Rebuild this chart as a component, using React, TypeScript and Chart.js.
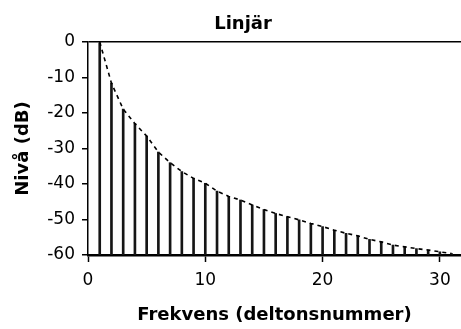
import React, { useEffect, useRef } from "react";
import { Chart, registerables } from "chart.js";

Chart.register(...registerables);

const TITLE = "Linjär";
const X_TITLE = "Frekvens (deltonsnummer)";
const Y_TITLE = "Nivå (dB)";

const harmonics = [
  1, 2, 3, 4, 5, 6, 7, 8, 9, 10, 11, 12, 13, 14, 15, 16, 17, 18, 19, 20, 21, 22,
  23, 24, 25, 26, 27, 28, 29, 30, 31,
];
const levels = [
  0, -11.6, -18.9, -23, -26.5, -31, -34, -36.5, -38.4, -39.8, -42, -43.5, -44.5,
  -45.9, -47.2, -48.3, -49.2, -50.1, -51.1, -52, -53, -53.9, -54.6, -55.6, -56.3,
  -57.2, -57.7, -58.2, -58.6, -59.1, -59.6,
];
const FLOOR = -60;
const xTicks = [0, 10, 20, 30];
const yTicks = [0, -10, -20, -30, -40, -50, -60];

const FONT = "DejaVu Sans";

const manualTitle = {
  id: "manualTitle",
  afterDraw(chart: any) {
    const ctx = chart.ctx;
    ctx.save();
    ctx.font = `bold 18px "${FONT}"`;
    ctx.fillStyle = "#000";
    ctx.textAlign = "center";
    ctx.textBaseline = "middle";
    ctx.fillText(TITLE, 243, 24);
    ctx.restore();
  },
};

export default function App() {
  const ref = useRef<HTMLCanvasElement | null>(null);

  useEffect(() => {
    if (!ref.current) return;
    const chart = new Chart(ref.current, {
      type: "bar",
      data: {
        datasets: [
          {
            type: "line",
            data: harmonics.map((h, i) => ({ x: h, y: levels[i] })),
            borderColor: "#000",
            borderWidth: 1.6,
            borderDash: [4, 4],
            pointRadius: 0,
            tension: 0,
            fill: false,
            order: 0,
          } as any,
          {
            type: "bar",
            data: harmonics.map((h, i) => ({ x: h, y: [FLOOR, levels[i]] })),
            backgroundColor: "#151515",
            borderWidth: 0,
            barThickness: 2,
            grouped: false,
            order: 1,
          } as any,
        ],
      },
      options: {
        animation: false,
        responsive: true,
        maintainAspectRatio: false,
        layout: { padding: { top: 42, right: 0, bottom: 0, left: 0 } },
        plugins: {
          legend: { display: false },
          tooltip: { enabled: false },
          title: { display: false },
        },
        scales: {
          x: {
            type: "linear",
            min: 0,
            max: 31.8,
            offset: false,
            afterBuildTicks: (s: any) => {
              s.ticks = xTicks.map((v) => ({ value: v }));
            },
            afterFit: (s: any) => {
              s.height = 74;
            },
            grid: {
              offset: false,
              drawOnChartArea: false,
              drawTicks: true,
              tickLength: 7,
              color: "#000",
              tickColor: "#000",
              tickWidth: 1.5,
            },
            border: { display: true, color: "#000", width: 2.5 },
            ticks: {
              color: "#000",
              font: { family: FONT, size: 17 },
              padding: 8,
              maxRotation: 0,
            },
            title: {
              display: true,
              text: X_TITLE,
              color: "#000",
              font: { family: FONT, size: 18, weight: "bold" },
              padding: { top: 0, bottom: 3 },
            },
          },
          y: {
            min: FLOOR,
            max: 0,
            afterBuildTicks: (s: any) => {
              s.ticks = yTicks.map((v) => ({ value: v }));
            },
            afterFit: (s: any) => {
              s.width = 88;
            },
            grid: {
              drawOnChartArea: true,
              drawTicks: true,
              tickLength: 6,
              color: (c: any) =>
                c.tick && c.tick.value === 0 ? "#000" : "rgba(0,0,0,0)",
              tickColor: "#000",
              lineWidth: 1.5,
              tickWidth: 1.5,
            },
            border: { display: true, color: "#000", width: 1.5 },
            ticks: {
              color: "#000",
              font: { family: FONT, size: 17 },
              padding: 7,
            },
            title: {
              display: true,
              text: Y_TITLE,
              color: "#000",
              font: { family: FONT, size: 18, weight: "bold" },
              padding: { top: 13, bottom: 0 },
            },
          },
        },
      } as any,
      plugins: [manualTitle],
    });
    return () => chart.destroy();
  }, []);

  return (
    <div
      style={{
        position: "fixed",
        left: 0,
        top: 0,
        width: 461,
        height: 329,
        background: "#fff",
      }}
    >
      <canvas ref={ref} />
    </div>
  );
}
